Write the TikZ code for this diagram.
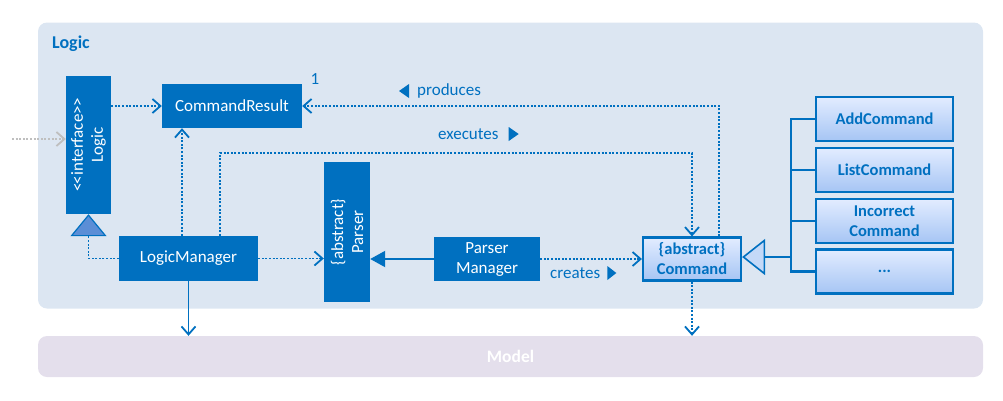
\documentclass[tikz,border=0pt]{standalone}
\usepackage{fontspec}
\setmainfont{Carlito}
\usetikzlibrary{arrows.meta}
\definecolor{dkblue}{HTML}{0070C0}
\definecolor{logicbg}{HTML}{DCE6F2}
\definecolor{modelbg}{HTML}{E4DFEC}
\definecolor{ltop}{HTML}{E2ECFF}
\definecolor{lbot}{HTML}{A6C5F4}
\definecolor{trifill}{HTML}{5B8ED6}
\definecolor{gentri}{HTML}{C4D9F8}
\definecolor{extgray}{HTML}{BFBFBF}
\begin{document}
\begin{tikzpicture}[x=1pt,y=-1pt,
  every node/.style={font=\fontsize{17}{20}\selectfont, inner sep=0pt, align=center},
  solidbox/.style={fill=dkblue, text=white},
  classbox/.style={draw=dkblue, line width=2.2pt, top color=ltop, bottom color=lbot, text=dkblue,
    font=\fontsize{16.5}{20}\selectfont\bfseries, minimum width=137pt, minimum height=44pt},
  barb/.style={-{Straight Barb[length=8pt,width=14pt,line width=1.8pt]}},
  dep/.style={draw=dkblue, line width=1.8pt, dash pattern=on 2pt off 1.6pt, barb},
  extdep/.style={draw=extgray, line width=1.8pt, dash pattern=on 2pt off 1.6pt,
    -{Straight Barb[length=8pt,width=14pt,line width=1.8pt]}},
  realize/.style={draw=dkblue, line width=1.8pt, dash pattern=on 2pt off 1.6pt,
    -{Triangle[length=22pt,width=36pt,fill=trifill,line width=1.2pt]}},
  genline/.style={draw=dkblue, line width=2.4pt},
  gen/.style={genline, -{Triangle[length=23pt,width=36pt,fill=gentri,line width=1.6pt]}},
  assoc/.style={draw=dkblue, line width=2pt, -{Triangle[length=15pt,width=16pt]}},
  solidarrow/.style={draw=dkblue, line width=1.8pt, barb},
  lbl/.style={text=dkblue},
  container/.style={rounded corners=9pt, minimum width=945pt}
]
\useasboundingbox (0,0) rectangle (1003,400);

% containers
\node[container, fill=logicbg, minimum height=286pt] (logicbox) at (510.5,165.5) {};
\node[anchor=west, text=dkblue, font=\fontsize{18}{20}\selectfont\bfseries] (logictitle) at (52,44) {Logic};
\node[container, fill=modelbg, minimum height=41pt, text=white,
      font=\fontsize{17.5}{20}\selectfont\bfseries] (model) at (510.5,356.5) {Model};

% classes
\node[solidbox, rotate=90, minimum width=138pt, minimum height=45pt] (logicI) at (88.5,145)
  {{<}\kern-1pt{<}interface{>}\kern-1pt{>}\\Logic};
\node[solidbox, minimum width=140pt, minimum height=44pt] (cmdres) at (232,106) {CommandResult};
\node[solidbox, minimum width=139pt, minimum height=45pt] (lm) at (188.5,258.5) {LogicManager};
\node[solidbox, rotate=90, minimum width=140pt, minimum height=46pt] (parser) at (347,232)
  {\{abstract\}\\Parser};
\node[solidbox, minimum width=106pt, minimum height=44pt] (pm) at (487,259) {Parser\\Manager};
\node[classbox, minimum width=98pt, minimum height=43pt] (cmd) at (692,259) {\{abstract\}\\Command};
\node[classbox] (add) at (884.5,119) {AddCommand};
\node[classbox] (list) at (884.5,170) {ListCommand};
\node[classbox] (incorrect) at (884.5,221) {Incorrect\\Command};
\node[classbox] (dots) at (884.5,271.5) {...};

% external dependency into Logic
\coordinate (ext) at (12,139);
\draw[extdep] (ext) -- (ext -| logicI.north);

% dependencies
\draw[dep] (logicI.south |- cmdres.west) -- (cmdres.west);
\draw[realize] (lm.west) -| (logicI.west);
\draw[dep] ([xshift=-6.5pt]lm.north) -- ([xshift=-6.5pt]lm.north |- cmdres.south);
\coordinate (exY) at (0,153);
\draw[dep] ([xshift=31.5pt]lm.north) |- (exY -| cmd.north) -- (cmd.north);
\draw[dep] ([xshift=27pt]cmd.north) |- (cmdres.east);
\draw[dep] (lm.east) -- (lm.east -| parser.north);
\draw[assoc] (pm.west) -- (pm.west -| parser.south);
\draw[dep] (pm.east) -- (cmd.west);
\draw[solidarrow] (lm.south) -- (lm.south |- model.north);
\draw[dep] (cmd.south) -- (cmd.south |- model.north);

% generalization
\coordinate (bus) at (791,257);
\draw[gen] (bus) -- (bus -| cmd.east);
\draw[genline] (add.west) -| (bus);
\draw[genline] (list.west) -| (bus);
\draw[genline] (incorrect.west) -| (bus);
\draw[genline] (dots.west) -| (bus);

% labels
\node[lbl, anchor=west] (lprod) at (417,91) {produces};
\fill[dkblue] ([xshift=-18pt]lprod.west) -- ([xshift=-8pt,yshift=7pt]lprod.west) -- ([xshift=-8pt,yshift=-7pt]lprod.west) -- cycle;
\node[lbl, anchor=west] (lexec) at (438,134) {executes};
\fill[dkblue] ([xshift=10pt,yshift=7pt]lexec.east) -- ([xshift=10pt,yshift=-7pt]lexec.east) -- ([xshift=20pt]lexec.east) -- cycle;
\node[lbl, anchor=west] (lcre) at (550,273) {creates};
\fill[dkblue] ([xshift=7pt,yshift=7pt]lcre.east) -- ([xshift=7pt,yshift=-7pt]lcre.east) -- ([xshift=16pt]lcre.east) -- cycle;
\node[lbl] (mult) at (315,79) {1};
\end{tikzpicture}
\end{document}
